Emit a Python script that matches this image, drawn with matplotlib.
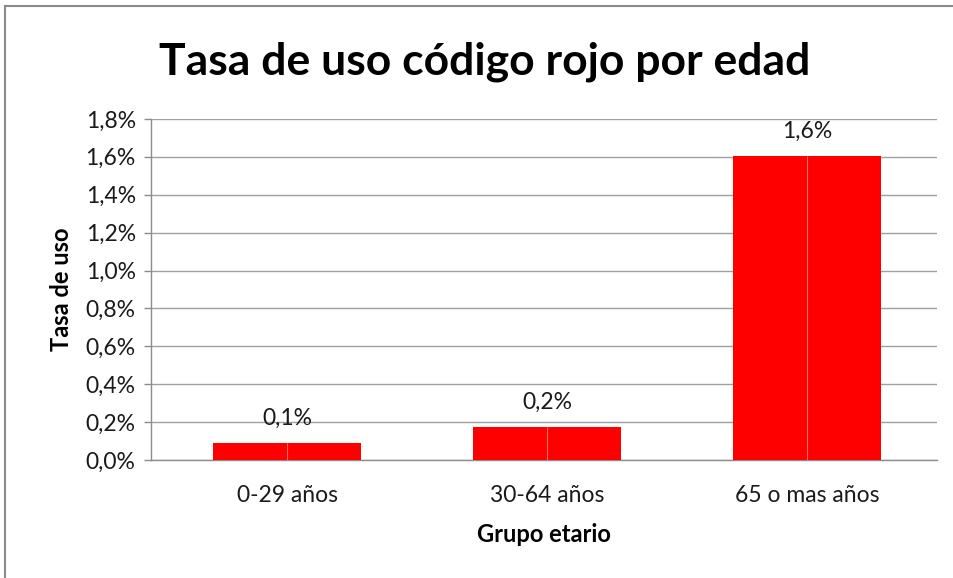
import matplotlib.pyplot as plt
from matplotlib.patches import Rectangle
from matplotlib.ticker import FuncFormatter
import numpy as np

# datos
grupos = ["0-29 años", "30-64 años", "65 o mas años"]
tasa = [0.09, 0.174, 1.605]          # en %
etiquetas = ["0,1%", "0,2%", "1,6%"]
yticks = [0.0, 0.2, 0.4, 0.6, 0.8, 1.0, 1.2, 1.4, 1.6, 1.8]

plt.rcParams['font.family'] = ['Lato', 'DejaVu Sans']

fig = plt.figure(figsize=(9.54, 5.78), dpi=100)
ax = fig.add_axes([0.1583, 0.2042, 0.8239, 0.5900])

x = np.arange(len(grupos))
ax.bar(x, tasa, width=0.57, color='#ff0000', zorder=3)
# linea clara en el centro de cada barra
ax.vlines(x, 0, tasa, color='#ff6a6a', linewidth=0.8, zorder=4)

for xi, v, t in zip(x, tasa, etiquetas):
    ax.annotate(t, (xi, v), xytext=(0, 18), textcoords='offset points',
                ha='center', va='center', fontsize=16.5, color='#1a1a1a')

ax.set_xlim(-0.523, 2.5)
ax.set_ylim(0, 1.8)
ax.set_yticks(yticks)
ax.yaxis.set_major_formatter(FuncFormatter(lambda v, p: f"{v:.1f}%".replace('.', ',')))
ax.set_xticks(x)
ax.set_xticklabels(grupos)
ax.tick_params(axis='y', length=5, width=1, color='#8c8c8c', labelsize=16.5, pad=6, labelcolor='#1a1a1a')
ax.tick_params(axis='x', length=0, labelsize=16.5, pad=18, labelcolor='#1a1a1a')

ax.grid(axis='y', color='#a0a0a0', linewidth=1, zorder=0)
for s in ['top', 'right']:
    ax.spines[s].set_visible(False)
for s in ['left', 'bottom']:
    ax.spines[s].set_color('#8c8c8c')
    ax.spines[s].set_linewidth(1)

ax.set_xlabel("Grupo etario", fontsize=17, fontweight='bold', labelpad=12)
ax.set_ylabel("Tasa de uso", fontsize=17, fontweight='bold', labelpad=9)

fig.text(0.508, 0.893, "Tasa de uso código rojo por edad", ha='center', va='center',
         fontsize=32, fontweight='bold', color='black')

# marco exterior
fig.add_artist(Rectangle((0.0052, -0.1), 1.2, 1.0896, transform=fig.transFigure,
                         fill=False, edgecolor='#8a8a8a', linewidth=1.5))

fig.savefig("out.png", dpi=100)
